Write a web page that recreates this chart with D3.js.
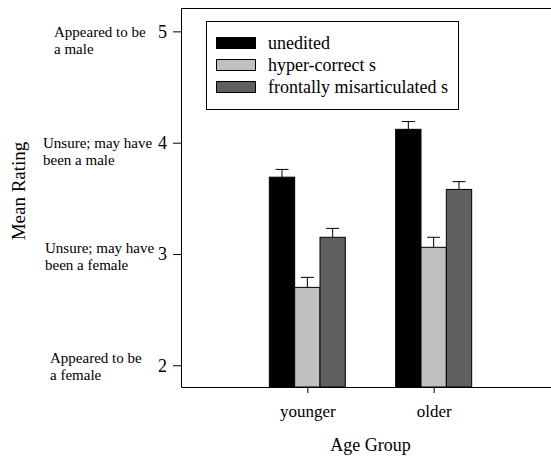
<!DOCTYPE html>
<html>
<head>
<meta charset="utf-8">
<script src="https://cdn.jsdelivr.net/npm/d3@7"></script>
<style>
  body { margin: 0; background: #fff; }
</style>
</head>
<body>
<div id="chart"></div>
<script>
// data
const groups = ["younger", "older"];
const series = ["unedited", "hyper-correct s", "frontally misarticulated s"];
const colors = ["#000000", "#c0c0c0", "#606060"];
const unedited = [3.69, 4.12];
const hyperCorrect = [2.70, 3.06];
const frontal = [3.15, 3.58];
const errUnedited = [0.07, 0.07];
const errHyper = [0.09, 0.09];
const errFrontal = [0.08, 0.07];
const yTicks = [2, 3, 4, 5];
const yTickNotes = [
  ["Appeared to be", "a female"],
  ["Unsure; may have", "been a female"],
  ["Unsure; may have", "been a male"],
  ["Appeared to be", "a male"]
];

const FONT = "'Liberation Serif', 'Times New Roman', serif";

const values = [unedited, hyperCorrect, frontal];
const errors = [errUnedited, errHyper, errFrontal];
const rows = [];
groups.forEach((g, gi) => {
  series.forEach((s, si) => {
    rows.push({ group: g, series: s, color: colors[si], value: values[si][gi], err: errors[si][gi] });
  });
});

const W = 551, H = 457;
const plotL = 181, plotR = 560, plotT = 8, plotB = 387;

const svg = d3.select("#chart").append("svg")
  .attr("width", W)
  .attr("height", H)
  .style("font-family", FONT);

const y = d3.scaleLinear().domain([1.805, 5.21]).range([plotB, plotT]);
const x = d3.scalePoint().domain(groups).range([plotL, plotR]).padding(1);
const xs = d3.scaleBand().domain(series).range([-38, 38]).padding(0);

// frame (top line; left and bottom come from axes)
svg.append("line")
  .attr("x1", plotL).attr("x2", plotR)
  .attr("y1", plotT + 0.5).attr("y2", plotT + 0.5)
  .attr("stroke", "#000").attr("stroke-width", 1);

// bars
svg.append("g").selectAll("rect")
  .data(rows)
  .join("rect")
  .attr("x", d => x(d.group) + xs(d.series))
  .attr("y", d => y(d.value))
  .attr("width", xs.bandwidth())
  .attr("height", d => plotB - y(d.value))
  .attr("fill", d => d.color)
  .attr("stroke", "#000")
  .attr("stroke-width", 1);

// error bars (upper only)
const eb = svg.append("g").attr("stroke", "#000").attr("stroke-width", 1);
const cx = d => x(d.group) + xs(d.series) + xs.bandwidth() / 2;
eb.selectAll("line.v")
  .data(rows)
  .join("line")
  .attr("class", "v")
  .attr("x1", cx).attr("x2", cx)
  .attr("y1", d => y(d.value))
  .attr("y2", d => y(d.value + d.err));
eb.selectAll("line.cap")
  .data(rows)
  .join("line")
  .attr("class", "cap")
  .attr("x1", d => cx(d) - 6.5)
  .attr("x2", d => cx(d) + 6.5)
  .attr("y1", d => y(d.value + d.err))
  .attr("y2", d => y(d.value + d.err));

// y axis
const yAxis = svg.append("g")
  .attr("transform", `translate(${plotL},0)`)
  .call(d3.axisLeft(y).tickValues(yTicks).tickFormat(d3.format("d"))
    .tickSize(8).tickSizeOuter(0).tickPadding(6));
yAxis.attr("font-family", FONT);
yAxis.select(".domain").attr("stroke", "#000");
yAxis.selectAll("text").style("font-family", FONT).style("font-size", "18px");

// x axis
const xAxis = svg.append("g")
  .attr("transform", `translate(0,${plotB})`)
  .call(d3.axisBottom(x).tickSize(6).tickSizeOuter(0).tickPadding(12));
xAxis.attr("font-family", FONT);
xAxis.select(".domain").attr("stroke", "#000");
xAxis.selectAll("text").style("font-family", FONT).style("font-size", "17px");

// notes beside y ticks
const noteX = [50, 45, 43, 54];
const noteShift = [-8, -6, 0, 0];
yTickNotes.forEach((lines, i) => {
  const t = svg.append("text")
    .attr("x", noteX[i])
    .attr("y", y(yTicks[i]) + noteShift[i])
    .attr("dy", "0.35em")
    .style("font-family", FONT)
    .style("font-size", "15px");
  lines.forEach((ln, j) => {
    t.append("tspan").attr("x", noteX[i]).attr("dy", j === 0 ? "0.35em" : 17).text(ln);
  });
});

// axis titles
svg.append("text")
  .attr("transform", `translate(25,${191}) rotate(-90)`)
  .attr("text-anchor", "middle")
  .style("font-family", FONT)
  .style("font-size", "19px")
  .text("Mean Rating");

svg.append("text")
  .attr("x", (plotL + plotR) / 2)
  .attr("y", 451)
  .attr("text-anchor", "middle")
  .style("font-family", FONT)
  .style("font-size", "18px")
  .text("Age Group");

// legend
const legend = svg.append("g");
legend.append("rect")
  .attr("x", 206.5).attr("y", 21.5)
  .attr("width", 252).attr("height", 88)
  .attr("fill", "#fff").attr("stroke", "#000");
series.forEach((s, i) => {
  const cy = 43 + i * 22;
  legend.append("rect")
    .attr("x", 216.5).attr("y", cy - 5.5)
    .attr("width", 39).attr("height", 11)
    .attr("fill", colors[i]).attr("stroke", "#000");
  legend.append("text")
    .attr("x", 268).attr("y", cy)
    .attr("dy", "0.35em")
    .style("font-family", FONT)
    .style("font-size", "18px")
    .text(s);
});
</script>
</body>
</html>
